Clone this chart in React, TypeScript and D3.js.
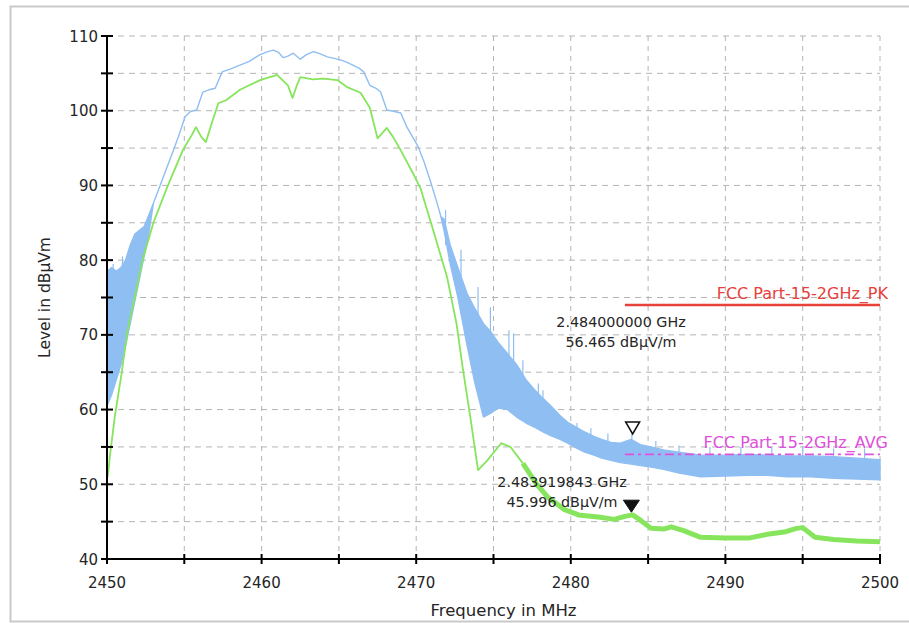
import React from "react";
import * as d3 from "d3";

// ---------- data ----------
const freqTicks = [2450, 2455, 2460, 2465, 2470, 2475, 2480, 2485, 2490, 2495, 2500];
const freqLabels = [2450, 2460, 2470, 2480, 2490, 2500];
const levelTicks = [40, 45, 50, 55, 60, 65, 70, 75, 80, 85, 90, 95, 100, 105, 110];
const levelLabels = [40, 50, 60, 70, 80, 90, 100, 110];

// Peak trace (blue) envelope: frequency, lower and upper edge of the noisy band
const peakFreq = [
  2450.0, 2450.3, 2450.6, 2450.9, 2451.2, 2451.5, 2451.8, 2452.1, 2452.4, 2452.7,
  2453.0, 2453.4, 2453.8, 2454.3, 2454.7, 2455.05, 2455.4, 2455.8, 2456.2, 2456.6,
  2457.0, 2457.45, 2458.0, 2458.6, 2459.2, 2459.9, 2460.4, 2460.75, 2461.1, 2461.4,
  2461.7, 2462.05, 2462.5, 2462.9, 2463.35, 2463.8, 2464.25, 2464.7, 2465.1, 2465.5,
  2465.9, 2466.3, 2466.6, 2467.0, 2467.4, 2467.7, 2468.1, 2468.6, 2469.0, 2469.4,
  2470.1, 2470.5, 2470.9, 2471.3, 2471.6, 2471.8, 2472.2, 2472.7, 2473.3, 2473.8,
  2474.35, 2474.8, 2475.3, 2475.9, 2476.5, 2477.1, 2477.6, 2478.2, 2478.7, 2479.3,
  2479.8, 2480.4, 2480.9, 2481.5, 2482.0, 2482.6, 2483.2, 2483.9, 2484.5, 2485.2,
  2486.0, 2487.0, 2488.4, 2490.0, 2491.5, 2492.7, 2494.0, 2495.5, 2497.0, 2498.5, 2500.0,
];
const peakLower = [
  60.5, 62.0, 64.0, 66.0, 68.5, 71.5, 74.5, 77.5, 80.5, 83.5,
  87.6, 89.8, 92.0, 94.7, 97.0, 99.2, 99.9, 100.1, 102.5, 102.8,
  103.0, 105.2, 105.6, 106.1, 106.6, 107.5, 107.9, 108.1, 107.8, 107.1,
  107.3, 107.7, 106.9, 107.5, 107.9, 107.6, 107.2, 107.0, 106.8, 106.5,
  106.1, 105.7, 105.2, 103.4, 103.0, 102.5, 100.1, 99.9, 99.7, 97.8,
  95.3, 93.2, 90.7, 88.0, 85.8, 84.0, 79.5, 75.0, 68.5, 63.5,
  59.0, 59.5, 60.2, 60.0, 59.0, 58.2, 57.7, 57.0, 56.5, 56.0,
  55.5, 54.8, 54.3, 53.9, 53.5, 53.2, 52.9, 52.7, 52.5, 52.3,
  52.0, 51.5, 51.0, 51.1, 51.2, 51.2, 51.0, 51.0, 50.8, 50.7, 50.6,
];
const peakUpper = [
  78.5, 79.0, 78.5, 79.0, 80.0, 82.0, 83.5, 84.0, 84.5, 86.0,
  87.6, 89.8, 92.0, 94.7, 97.0, 99.2, 99.9, 100.1, 102.5, 102.8,
  103.0, 105.2, 105.6, 106.1, 106.6, 107.5, 107.9, 108.1, 107.8, 107.1,
  107.3, 107.7, 106.9, 107.5, 107.9, 107.6, 107.2, 107.0, 106.8, 106.5,
  106.1, 105.7, 105.2, 103.4, 103.0, 102.5, 100.1, 99.9, 99.7, 97.8,
  95.3, 93.2, 90.7, 88.0, 85.8, 85.5, 82.0, 79.0, 75.5, 73.5,
  71.5, 70.5, 69.0, 67.5, 66.0, 64.0, 62.8, 61.5, 60.5, 59.2,
  58.3, 57.6, 57.0, 56.4, 56.0, 55.6, 55.5, 56.0, 55.3, 55.0,
  54.6, 54.3, 53.9, 53.9, 54.0, 53.9, 53.8, 53.8, 53.7, 53.5, 53.3,
];
// Isolated spikes on the peak trace
const spikeFreq = [
  2450.4, 2451.0, 2451.9, 2471.9, 2472.9, 2474.0, 2474.8, 2476.0, 2476.3, 2476.9,
  2477.9, 2478.2, 2480.4, 2481.3, 2482.4, 2483.95, 2485.5, 2487.0, 2489.0, 2491.0,
  2493.0, 2495.0, 2497.0, 2499.0,
];
const spikeLevel = [
  79.5, 80.5, 83.5, 86.7, 81.4, 76.4, 73.7, 70.6, 70.2, 66.6,
  63.5, 62.6, 58.2, 57.5, 56.8, 56.8, 55.8, 55.2, 55.0, 55.0,
  54.9, 55.0, 54.8, 54.8,
];

// Average trace (green)
const avgFreq = [
  2450.05, 2450.2, 2450.5, 2450.95, 2451.3, 2451.8, 2452.3, 2453.0, 2453.9, 2454.9,
  2455.5, 2455.75, 2456.1, 2456.4, 2456.8, 2457.2, 2457.7, 2458.6, 2459.9, 2461.0,
  2461.7, 2462.0, 2462.3, 2462.5, 2463.3, 2464.0, 2464.9, 2465.5, 2466.4, 2467.0,
  2467.5, 2468.1, 2468.5, 2469.0, 2469.8, 2470.3, 2471.1, 2472.0, 2472.6, 2473.0,
  2473.5, 2474.0, 2474.6, 2475.5, 2476.1, 2476.9, 2477.8, 2478.5, 2479.6, 2480.5,
  2481.9, 2482.8, 2483.5, 2484.0, 2484.5, 2485.2, 2486.0, 2486.5, 2487.3, 2488.4,
  2490.0, 2491.5, 2492.7, 2493.8, 2494.6, 2495.0, 2495.8, 2497.0, 2498.5, 2500.0,
];
const avgLevel = [
  51.0, 54.0, 59.0, 64.9, 70.2, 75.1, 80.0, 85.0, 89.8, 94.7,
  96.8, 97.8, 96.5, 95.8, 98.5, 101.0, 101.4, 102.8, 104.1, 104.8,
  103.4, 101.7, 103.5, 104.5, 104.2, 104.3, 104.1, 103.2, 102.4, 100.4,
  96.3, 97.7, 96.5, 94.7, 91.6, 89.5, 84.0, 77.7, 71.6, 65.7,
  59.0, 51.9, 53.2, 55.5, 55.0, 52.8, 50.0, 48.3, 46.6, 45.9,
  45.6, 45.3, 45.7, 45.9, 45.2, 44.1, 44.0, 44.3, 43.8, 42.9,
  42.8, 42.8, 43.3, 43.6, 44.1, 44.2, 42.9, 42.6, 42.4, 42.3,
];

// Limit lines
const limitNames = ["FCC Part-15-2GHz_PK", "FCC Part-15-2GHz_AVG"];
const limitLevels = [74, 54];
const limitStart = [2483.5, 2483.5];
const limitEnd = [2500, 2500];

// Markers
const markerFreq = [2484.0, 2483.919843];
const markerLevel = [56.465, 45.996];
const markerLines = [
  ["2.484000000 GHz", "56.465 dBµV/m"],
  ["2.483919843 GHz", "45.996 dBµV/m"],
];

// ---------- layout ----------
const W = 909;
const H = 623;
const L = 107, R = 880, T = 36, B = 559;
const FONT = "'DejaVu Sans', Verdana, sans-serif";

export default function App() {
  const x = d3.scaleLinear().domain([2450, 2500]).range([L, R]);
  const y = d3.scaleLinear().domain([40, 110]).range([B, T]);

  const peakIdx = d3.range(peakFreq.length);
  const peakArea = d3
    .area<number>()
    .x((i) => x(peakFreq[i]))
    .y0((i) => y(peakLower[i]))
    .y1((i) => y(peakUpper[i]))(peakIdx) as string;

  const avgIdx = d3.range(avgFreq.length);
  const avgLine = d3
    .line<number>()
    .x((i) => x(avgFreq[i]))
    .y((i) => y(avgLevel[i]));
  const avgHead = avgLine(avgIdx.filter((i) => avgFreq[i] <= 2476.9)) as string;
  const avgTail = avgLine(avgIdx.filter((i) => avgFreq[i] >= 2476.9)) as string;

  const blue = "#8fbef2";
  const green = "#86e55c";
  const grid = "#b4b4b4";
  const textColor = "#252525";

  const limitColors = ["#e8403a", "#e050dc"];

  const m0x = x(markerFreq[0]);
  const m0y = y(markerLevel[0]);
  const m1x = x(markerFreq[1]);
  const m1y = y(markerLevel[1]);

  return (
    <svg
      width={W}
      height={H}
      style={{ position: "absolute", left: 0, top: 0, background: "#fff" }}
      fontFamily={FONT}
    >
      <rect x={0} y={0} width={W} height={H} fill="#fff" />
      <rect x={10.5} y={6.5} width={W} height={615} fill="#fff" stroke="#c9c9c9" strokeWidth={2} />

      {/* grid */}
      {freqTicks.map((f) => (
        <line key={"gx" + f} x1={x(f)} x2={x(f)} y1={T} y2={B} stroke={grid} strokeDasharray="5,5" strokeWidth={1} />
      ))}
      {levelTicks.map((v) => (
        <line key={"gy" + v} x1={L} x2={R} y1={y(v)} y2={y(v)} stroke={grid} strokeDasharray="6,5" strokeWidth={1} />
      ))}

      {/* limit PK */}
      <line x1={x(limitStart[0])} x2={x(limitEnd[0])} y1={y(limitLevels[0])} y2={y(limitLevels[0])} stroke={limitColors[0]} strokeWidth={2.5} />

      {/* peak trace */}
      <path d={peakArea} fill={blue} stroke={blue} strokeWidth={1.4} strokeLinejoin="round" />
      {spikeFreq.map((f, i) => {
        const j = d3.bisectLeft(peakFreq, f);
        const base = Math.min(peakUpper[Math.max(0, j - 1)], peakUpper[Math.min(j, peakFreq.length - 1)]);
        return (
          <line key={"sp" + i} x1={x(f)} x2={x(f)} y1={y(base)} y2={y(spikeLevel[i])} stroke={blue} strokeWidth={1.2} />
        );
      })}

      {/* limit AVG (over the trace, broken look) */}
      <line x1={x(limitStart[1])} x2={x(limitEnd[1])} y1={y(limitLevels[1])} y2={y(limitLevels[1])} stroke={limitColors[1]} strokeWidth={1.6} strokeDasharray="9,4,3,4" />

      {/* average trace */}
      <path d={avgHead} fill="none" stroke={green} strokeWidth={1.8} strokeLinejoin="round" />
      <path d={avgTail} fill="none" stroke={green} strokeWidth={5} strokeLinejoin="round" />

      {/* limit labels */}
      {limitNames.map((n, i) => (
        <text key={n} x={888} y={y(limitLevels[i]) - 6} textAnchor="end" fontSize={16} fill={limitColors[i]}>
          {n}
        </text>
      ))}

      {/* open marker (peak) */}
      <path
        d={`M${m0x - 7},${m0y - 14} L${m0x + 7},${m0y - 14} L${m0x},${m0y - 2} Z`}
        fill="#fff"
        stroke="#111"
        strokeWidth={1.5}
      />
      <text x={621} y={327} textAnchor="middle" fontSize={14.3} fill={textColor}>{markerLines[0][0]}</text>
      <text x={621} y={347} textAnchor="middle" fontSize={14.3} fill={textColor}>{markerLines[0][1]}</text>

      {/* filled marker (avg) */}
      <path
        d={`M${m1x - 8},${m1y - 14} L${m1x + 8},${m1y - 14} L${m1x},${m1y - 2} Z`}
        fill="#111"
        stroke="#111"
        strokeWidth={1}
      />
      <text x={562} y={487} textAnchor="middle" fontSize={14.3} fill={textColor}>{markerLines[1][0]}</text>
      <text x={562} y={507} textAnchor="middle" fontSize={14.3} fill={textColor}>{markerLines[1][1]}</text>

      {/* axes */}
      <line x1={L} x2={L} y1={T} y2={B} stroke="#000" strokeWidth={2} />
      <line x1={L} x2={R} y1={B} y2={B} stroke="#000" strokeWidth={2} />
      {levelTicks.map((v) => (
        <line key={"ty" + v} x1={L - 6} x2={L + 6} y1={y(v)} y2={y(v)} stroke="#000" strokeWidth={2} />
      ))}
      {freqTicks.map((f) => (
        <line key={"tx" + f} x1={x(f)} x2={x(f)} y1={B - 5} y2={B + 5} stroke="#000" strokeWidth={2} />
      ))}
      {levelLabels.map((v) => (
        <text key={"ly" + v} x={L - 9} y={y(v) + 5.5} textAnchor="end" fontSize={15} fill={textColor}>
          {v}
        </text>
      ))}
      {freqLabels.map((f) => (
        <text key={"lx" + f} x={x(f)} y={B + 29} textAnchor="middle" fontSize={15} fill={textColor}>
          {f}
        </text>
      ))}

      {/* axis titles */}
      <text transform={`translate(50,${(T + B) / 2}) rotate(-90)`} textAnchor="middle" fontSize={15.5} fill={textColor}>
        Level in dBµVm
      </text>
      <text x={(L + R) / 2 + 10} y={616} textAnchor="middle" fontSize={16.5} fill={textColor}>
        Frequency in MHz
      </text>
    </svg>
  );
}
